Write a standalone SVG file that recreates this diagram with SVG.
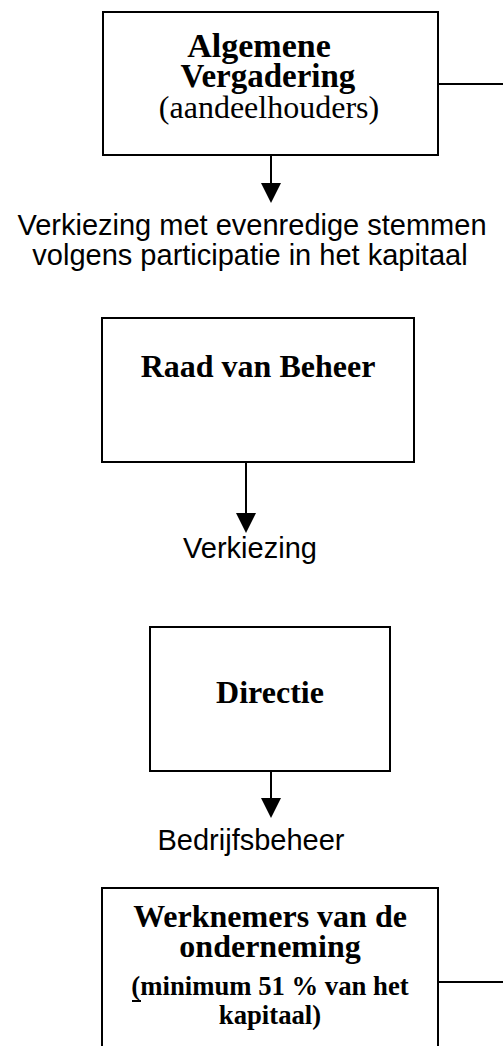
<svg xmlns="http://www.w3.org/2000/svg" width="503" height="1046" viewBox="0 0 503 1046">
<style>
.box{fill:#fff;stroke:#000;stroke-width:2}
.ln{fill:none;stroke:#000;stroke-width:2}
.hd{fill:#000;stroke:none}
.tb{font-family:"Liberation Serif","Times New Roman",serif;font-weight:bold;fill:#000;text-anchor:middle}
.tr{font-family:"Liberation Serif","Times New Roman",serif;fill:#000;text-anchor:middle}
.ts{font-family:"Liberation Sans",Arial,sans-serif;font-size:29px;fill:#000;text-anchor:middle}
</style>
<rect width="503" height="1046" fill="#fff"/>
<g id="connectors">
<line class="ln" x1="439" y1="84" x2="503" y2="84"/>
<line class="ln" x1="271" y1="156" x2="271" y2="186"/>
<polygon class="hd" points="261,183 281,183 271,203"/>
<line class="ln" x1="246" y1="463" x2="246" y2="516"/>
<polygon class="hd" points="236,513 256,513 246,533"/>
<line class="ln" x1="271" y1="772" x2="271" y2="801"/>
<polygon class="hd" points="261,798 281,798 271,818"/>
<line class="ln" x1="438" y1="982" x2="503" y2="982"/>
</g>
<g id="node-algemene-vergadering">
<rect class="box" x="103" y="12" width="335" height="143"/>
<text class="tb" x="259" y="57" font-size="34">Algemene</text>
<text class="tb" x="268" y="87" font-size="33">Vergadering</text>
<text class="tr" x="269" y="118" font-size="32">(aandeelhouders)</text>
</g>
<g id="label-verkiezing-evenredig">
<text class="ts" x="252" y="235">Verkiezing met evenredige stemmen</text>
<text class="ts" x="250" y="265">volgens participatie in het kapitaal</text>
</g>
<g id="node-raad-van-beheer">
<rect class="box" x="102" y="318" width="312" height="144"/>
<text class="tb" x="258" y="377" font-size="32">Raad van Beheer</text>
</g>
<g id="label-verkiezing">
<text class="ts" x="250" y="558">Verkiezing</text>
</g>
<g id="node-directie">
<rect class="box" x="150" y="627" width="240" height="144"/>
<text class="tb" x="270" y="703" font-size="32">Directie</text>
</g>
<g id="label-bedrijfsbeheer">
<text class="ts" x="251" y="850">Bedrijfsbeheer</text>
</g>
<g id="node-werknemers">
<rect class="box" x="102" y="888" width="336" height="170"/>
<text class="tb" x="270" y="927" font-size="32">Werknemers van de</text>
<text class="tb" x="270" y="957" font-size="32">onderneming</text>
<text class="tb" x="270" y="995" font-size="26.7">(minimum 51 % van het</text>
<line class="ln" x1="132" y1="1001" x2="141" y2="1001"/>
<text class="tb" x="270" y="1024" font-size="26.7">kapitaal)</text>
</g>
</svg>
